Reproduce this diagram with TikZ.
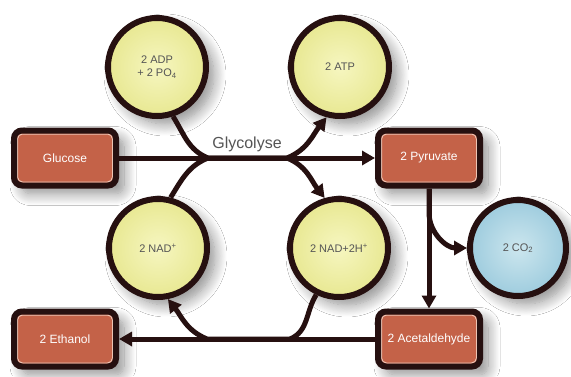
\documentclass[tikz,border=0pt]{standalone}
\usepackage{fontspec}
\setmainfont{Liberation Sans}
\usetikzlibrary{arrows.meta,shadows.blur}
\definecolor{edge}{RGB}{38,16,16}
\definecolor{boxfill}{RGB}{196,98,72}
\definecolor{boxline}{RGB}{236,196,180}
\definecolor{yel}{RGB}{232,232,146}
\definecolor{yelin}{RGB}{246,246,192}
\definecolor{blu}{RGB}{158,204,222}
\definecolor{bluin}{RGB}{204,230,238}
\definecolor{txt}{RGB}{85,85,85}
\begin{document}
\begin{tikzpicture}[x=1pt,y=1pt,
  shad/.style={blur shadow={shadow xshift=8pt,shadow yshift=-8pt,shadow blur steps=14,shadow opacity=45,shadow blur radius=12pt}},
  ball/.style={circle, draw=edge, line width=6pt, minimum size=98pt, inner sep=0pt,
    inner color=yelin, outer color=yel, shad, align=center,
    font=\fontsize{11}{13}\selectfont, text=txt},
  stepbox/.style={rectangle, rounded corners=8pt, draw=edge, line width=6pt,
    minimum width=102pt, minimum height=55pt, fill=boxfill, shad,
    font=\fontsize{12}{14}\selectfont, text=white,
    path picture={\draw[boxline, line width=1pt, rounded corners=5pt]
      ([shift={(3.5pt,3.5pt)}]path picture bounding box.south west) rectangle
      ([shift={(-3.5pt,-3.5pt)}]path picture bounding box.north east);}},
  conn/.style={draw=edge, line width=5pt, -{Triangle[length=13pt,width=14pt]}},
  lbl/.style={font=\fontsize{16}{18}\selectfont, text=txt}
]
\useasboundingbox (0,0) rectangle (571,376);
\fill[white] (0,0) rectangle (571,376);

\node[ball] (adp) at (157,309) {2 ADP\\+ 2 PO\textsubscript{4}};
\node[ball] (atp) at (340,309) {2 ATP};
\node[ball] (nadp) at (158,128) {2 NAD\textsuperscript{+}};
\node[ball] (nadh) at (339,128) {2 NAD+2H\textsuperscript{+}};
\node[ball, minimum size=96pt, inner color=bluin, outer color=blu] (co2) at (518,128) {2 CO\textsubscript{2}};

\node[stepbox] (glu) at (65,218) {Glucose};
\node[stepbox] (pyr) at (429,218) {2 Pyruvate};
\node[stepbox] (eth) at (65,37) {2 Ethanol};
\node[stepbox] (ace) at (429,37) {2 Acetaldehyde};

\coordinate (jl) at (208,218);
\coordinate (jr) at (287,218);
\coordinate (bl) at (207,37);
\coordinate (br) at (290,37);

\draw[conn] (glu) -- (pyr);
\draw[conn] (adp.-72) to[out=-58,in=158] (jl) -- (jr) to[out=22,in=-128] (atp.-105);
\draw[conn] (nadp.76) to[out=58,in=202] (jl) -- (jr) to[out=-22,in=128] (nadh.106);
\draw[conn] (nadh.-116) to[out=-122,in=22] (br) -- (bl) to[out=158,in=-52] (nadp.-79);
\draw[conn] (ace) -- (eth);
\draw[conn] (pyr) -- (ace);
\draw[conn] (pyr.south) -- ++(0,-24) to[out=-90,in=180] (co2.west);

\node[lbl] (gly) at (247,232) {Glycolyse};
\end{tikzpicture}
\end{document}
